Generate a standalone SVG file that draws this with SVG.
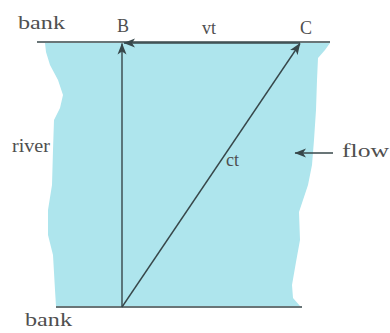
<svg xmlns="http://www.w3.org/2000/svg" width="390" height="333" viewBox="0 0 390 333">
<defs>
<marker id="ah" viewBox="0 0 12 10" refX="11" refY="5" markerWidth="12" markerHeight="10" markerUnits="userSpaceOnUse" orient="auto">
<path d="M0,0.5 L11.5,5 L0,9.5 L3,5 Z" fill="#37474a"/>
</marker>
<style>
.t{font-family:"Liberation Serif","Times New Roman",serif;font-size:18px;fill:#4f4f4f}
.l{stroke:#37474a;stroke-width:1.4;fill:none}
</style>
</defs>
<g id="river">
<path d="M45,43 L330,43 L325,50 L318,58 L317,80 L316,110 L314,140 L312,165 L308,185 L303,200 L299,212 L300,240 L296,262 L292,285 L293,298 L300,306 L56,306 L55,290 L53,255 L48,235 L48,210 L52,185 L53,150 L54,120 L60,108 L63,95 L58,80 L50,65 L46,52 Z" fill="#aee5ed"/>
</g>
<g id="banks">
<line class="l" x1="37" y1="42" x2="330" y2="42"/>
<line class="l" x1="56" y1="307" x2="302" y2="307"/>
</g>
<g id="connectors">
<line class="l" x1="122" y1="307" x2="122" y2="43.5" marker-end="url(#ah)"/>
<line class="l" x1="300" y1="43" x2="124" y2="43" marker-end="url(#ah)"/>
<line class="l" x1="122" y1="307" x2="300" y2="43.5" marker-end="url(#ah)"/>
<line class="l" x1="333" y1="153" x2="295" y2="153" marker-end="url(#ah)"/>
</g>
<g id="labels">
<text class="t" x="18" y="29" textLength="47" lengthAdjust="spacingAndGlyphs">bank</text>
<text class="t" x="117" y="32">B</text>
<text class="t" x="202" y="34">vt</text>
<text class="t" x="300" y="34">C</text>
<text class="t" x="12" y="152" textLength="38" lengthAdjust="spacingAndGlyphs">river</text>
<text class="t" x="342" y="157" textLength="47" lengthAdjust="spacingAndGlyphs">flow</text>
<text class="t" x="226" y="166">ct</text>
<text class="t" x="25" y="326" textLength="47" lengthAdjust="spacingAndGlyphs">bank</text>
</g>
</svg>
